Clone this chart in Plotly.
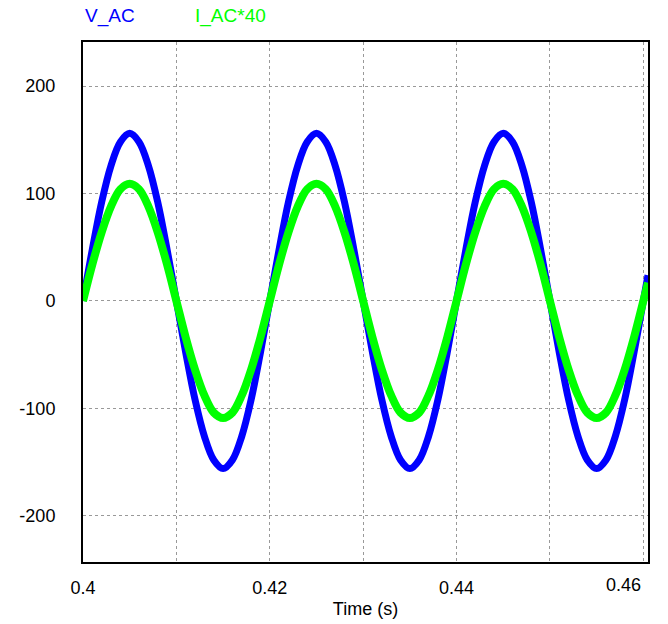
import plotly.graph_objects as go

# Time samples (s)
time_s = [0.400, 0.401, 0.402, 0.403, 0.404, 0.405, 0.406, 0.407, 0.408, 0.409,
          0.410, 0.411, 0.412, 0.413, 0.414, 0.415, 0.416, 0.417, 0.418, 0.419,
          0.420, 0.421, 0.422, 0.423, 0.424, 0.425, 0.426, 0.427, 0.428, 0.429,
          0.430, 0.431, 0.432, 0.433, 0.434, 0.435, 0.436, 0.437, 0.438, 0.439,
          0.440, 0.441, 0.442, 0.443, 0.444, 0.445, 0.446, 0.447, 0.448, 0.449,
          0.450, 0.451, 0.452, 0.453, 0.454, 0.455, 0.456, 0.457, 0.458, 0.459,
          0.460, 0.4605]

# V_AC values
v_ac = [0, 48, 92, 126, 148, 156, 148, 126, 92, 48,
        0, -48, -92, -126, -148, -156, -148, -126, -92, -48,
        0, 48, 92, 126, 148, 156, 148, 126, 92, 48,
        0, -48, -92, -126, -148, -156, -148, -126, -92, -48,
        0, 48, 92, 126, 148, 156, 148, 126, 92, 48,
        0, -48, -92, -126, -148, -156, -148, -126, -92, -48,
        0, 24]

# I_AC*40 values
i_ac40 = [0, 34, 64, 88, 104, 109, 104, 88, 64, 34,
          0, -34, -64, -88, -104, -109, -104, -88, -64, -34,
          0, 34, 64, 88, 104, 109, 104, 88, 64, 34,
          0, -34, -64, -88, -104, -109, -104, -88, -64, -34,
          0, 34, 64, 88, 104, 109, 104, 88, 64, 34,
          0, -34, -64, -88, -104, -109, -104, -88, -64, -34,
          0, 17]

x_tick_vals = [0.40, 0.42, 0.44]
x_tick_text = ["0.4", "0.42", "0.44"]
y_tick_vals = [-200, -100, 0, 100, 200]
y_tick_text = ["-200", "-100", "0", "100", "200"]

FONT = "Liberation Sans, Arial, sans-serif"
BLUE = "#0000ff"
GREEN = "#00ff00"

fig = go.Figure()
fig.add_trace(go.Scatter(x=time_s, y=v_ac, mode="lines", name="V_AC",
                         line=dict(color=BLUE, width=7, shape="spline")))
fig.add_trace(go.Scatter(x=time_s, y=i_ac40, mode="lines", name="I_AC*40",
                         line=dict(color=GREEN, width=8, shape="spline")))

grid = dict(showgrid=True, gridcolor="#999999", griddash="dot", gridwidth=1)

fig.update_xaxes(range=[0.4, 0.4605], tickmode="array", tickvals=x_tick_vals,
                 ticktext=x_tick_text, ticks="", showline=True, linecolor="black",
                 linewidth=2, mirror=True, zeroline=False, automargin=False,
                 minor=dict(dtick=0.01, tick0=0.4, showgrid=True, gridcolor="#999999",
                            griddash="dot", gridwidth=1),
                 tickfont=dict(family=FONT, size=18, color="black"),
                 ticklabelstandoff=8,
                 title=dict(text="Time (s)", font=dict(family=FONT, size=18, color="black"),
                            standoff=6),
                 **grid)
fig.update_yaxes(range=[-243, 241], tickmode="array", tickvals=y_tick_vals,
                 ticktext=y_tick_text, ticks="", showline=True, linecolor="black",
                 linewidth=2, mirror=True, zeroline=False, automargin=False,
                 tickfont=dict(family=FONT, size=18, color="black"),
                 ticklabelstandoff=22, **grid)

fig.add_annotation(x=0.46, xref="x", y=-0.021, yref="paper", text="0.46",
                   showarrow=False, xanchor="right", yanchor="top",
                   font=dict(family=FONT, size=18, color="black"))
fig.add_annotation(x=0.0, xref="paper", y=1.0, yref="paper", yshift=26, text="V_AC",
                   showarrow=False, xanchor="left", yanchor="middle",
                   font=dict(family=FONT, size=19, color=BLUE))
fig.add_annotation(x=0.195, xref="paper", y=1.0, yref="paper", yshift=26, text="I_AC*40",
                   showarrow=False, xanchor="left", yanchor="middle",
                   font=dict(family=FONT, size=19, color=GREEN))

fig.update_layout(width=668, height=624, showlegend=False,
                  paper_bgcolor="white", plot_bgcolor="white",
                  margin=dict(l=83, r=20, t=42, b=62))

fig.write_html("out.html", config={"displayModeBar": False})

# remove the default page margin so the figure sits at the window's top-left
with open("out.html", "r", encoding="utf-8") as f:
    html = f.read()
html = html.replace("<head>", "<head><style>html,body{margin:0;padding:0;overflow:hidden;}</style>", 1)
with open("out.html", "w", encoding="utf-8") as f:
    f.write(html)
